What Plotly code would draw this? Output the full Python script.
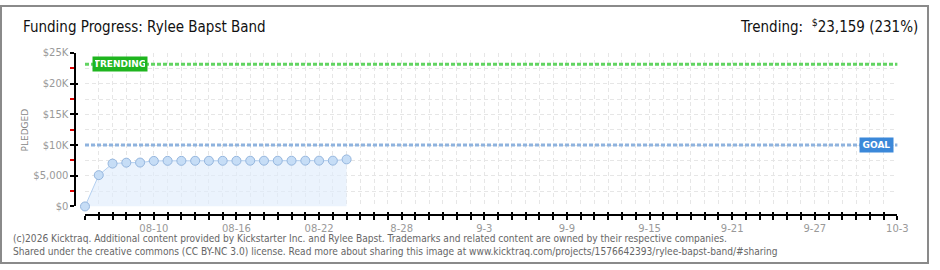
import plotly.graph_objects as go

# ---- data ----
dates = ["2025-08-05", "2025-08-06", "2025-08-07", "2025-08-08", "2025-08-09",
         "2025-08-10", "2025-08-11", "2025-08-12", "2025-08-13", "2025-08-14",
         "2025-08-15", "2025-08-16", "2025-08-17", "2025-08-18", "2025-08-19",
         "2025-08-20", "2025-08-21", "2025-08-22", "2025-08-23", "2025-08-24"]
pledged = [0, 5100, 6980, 7130, 7150, 7420, 7430, 7430, 7440, 7440,
           7440, 7440, 7450, 7450, 7450, 7450, 7460, 7460, 7460, 7660]
goal = 10000
trending = 23159

x_tick_vals = ["2025-08-10", "2025-08-16", "2025-08-22", "2025-08-28", "2025-09-03",
               "2025-09-09", "2025-09-15", "2025-09-21", "2025-09-27", "2025-10-03"]
x_tick_text = ["08-10", "08-16", "08-22", "8-28", "9-3", "9-9", "9-15", "9-21", "9-27", "10-3"]
y_tick_vals = [0, 5000, 10000, 15000, 20000, 25000]
y_tick_text = ["$0", "$5,000", "$10K", "$15K", "$20K", "$25K"]
x_range = ["2025-08-05", "2025-10-03"]
y_range = [0, 25000]

W, H = 940, 270
def px(x):
    return x / W
def py(y):
    return 1 - y / H

label_font = dict(family="DejaVu Sans", size=10, color="#999999")
grid_col = "#e6e6e6"
grid_dash = "4px,3px"

fig = go.Figure()
fig.add_trace(go.Scatter(
    x=dates, y=pledged, mode="lines+markers",
    line=dict(color="#b3cff0", width=1),
    marker=dict(size=9, color="#c6ddf6", line=dict(color="#95b6de", width=1)),
    fill="tozeroy", fillcolor="rgba(225,237,252,0.65)",
    cliponaxis=False, showlegend=False, hoverinfo="x+y"))
# invisible trace to carry the overlay axes (cross ticks)
fig.add_trace(go.Scatter(x=[dates[0]], y=[0], xaxis="x2", yaxis="y2", mode="markers",
                         marker=dict(opacity=0), showlegend=False, hoverinfo="skip"))

xdom = [px(86), px(908)]
ydom = [py(210), py(50)]
xpos = py(219)
ypos = px(76)

fig.update_layout(
    width=W, height=H, margin=dict(l=0, r=0, t=0, b=0, pad=0),
    paper_bgcolor="white", plot_bgcolor="white",
    xaxis=dict(type="date", domain=xdom, range=x_range, anchor="free", position=xpos,
               tickmode="array", tickvals=x_tick_vals, ticktext=x_tick_text,
               ticks="outside", ticklen=4, tickwidth=1.5, tickcolor="black",
               showline=True, linecolor="black", linewidth=1.5,
               showgrid=True, gridcolor=grid_col, griddash=grid_dash, gridwidth=1,
               zeroline=False, tickfont=label_font,
               minor=dict(tickmode="linear", tick0="2025-08-05", dtick=86400000,
                          ticks="outside", ticklen=4, tickwidth=1.5, tickcolor="black",
                          showgrid=True, gridcolor=grid_col, griddash=grid_dash, gridwidth=1)),
    yaxis=dict(domain=ydom, range=y_range, anchor="free", position=ypos,
               tickmode="array", tickvals=y_tick_vals, ticktext=y_tick_text,
               ticks="outside", ticklen=4, tickwidth=1.5, tickcolor="black",
               showline=True, linecolor="black", linewidth=1.5,
               showgrid=True, gridcolor=grid_col, griddash=grid_dash, gridwidth=1,
               zeroline=False, tickfont=label_font,
               minor=dict(tickmode="linear", tick0=0, dtick=2500,
                          ticks="outside", ticklen=4, tickwidth=1.5, tickcolor="#e00000",
                          showgrid=True, gridcolor=grid_col, griddash=grid_dash, gridwidth=1)),
    xaxis2=dict(type="date", overlaying="x", range=x_range, anchor="free", position=xpos,
                tickmode="array", tickvals=x_tick_vals, showticklabels=False,
                ticks="inside", ticklen=3, tickwidth=1.5, tickcolor="black",
                showline=False, showgrid=False, zeroline=False,
                minor=dict(tickmode="linear", tick0="2025-08-05", dtick=86400000,
                           ticks="inside", ticklen=3, tickwidth=1.5, tickcolor="black",
                           showgrid=False)),
    yaxis2=dict(overlaying="y", range=y_range, anchor="free", position=ypos,
                tickmode="array", tickvals=y_tick_vals, showticklabels=False,
                ticks="inside", ticklen=2, tickwidth=1.5, tickcolor="black",
                showline=False, showgrid=False, zeroline=False),
)

# reference lines
fig.add_shape(type="line", xref="x domain", x0=0, x1=1, yref="y", y0=trending, y1=trending,
              line=dict(color="#62d462", width=3, dash="4px,2px"), layer="above")
fig.add_shape(type="line", xref="x domain", x0=0, x1=1, yref="y", y0=goal, y1=goal,
              line=dict(color="#8fb3de", width=3, dash="4px,2px"), layer="above")

badge_font = dict(family="DejaVu Sans", size=9, color="white")
fig.add_annotation(text="<b>TRENDING</b>", xref="x domain", x=(93 - 86) / 822, xanchor="left",
                   yref="y", y=trending, yanchor="middle", showarrow=False,
                   font=badge_font, bgcolor="#1fb51f", borderpad=2, width=50, height=10)
fig.add_annotation(text="<b>GOAL</b>", xref="x domain", x=(905 - 86) / 822, xanchor="right",
                   yref="y", y=goal, yanchor="middle", showarrow=False,
                   font=badge_font, bgcolor="#3b88d9", borderpad=2, width=29, height=10)

# y-axis title
fig.add_annotation(text="PLEDGED", xref="paper", x=px(18), yref="paper", y=py(130),
                   textangle=-90, showarrow=False,
                   font=dict(family="DejaVu Sans", size=9, color="#888888"))

title_font = dict(family="Liberation Sans Narrow, DejaVu Sans Condensed, sans-serif", size=15, color="#111111")
fig.add_annotation(text="Funding Progress: Rylee Bapst Band", xref="paper", x=px(21), xanchor="left",
                   yref="paper", y=py(23), yanchor="middle", showarrow=False, font=title_font)
fig.add_annotation(text="Trending:  <sup>$</sup>23,159 (231%)", xref="paper", x=px(931), xanchor="right",
                   yref="paper", y=py(22), yanchor="middle", showarrow=False, font=title_font)

foot_font = dict(family="Liberation Sans Narrow, DejaVu Sans Condensed, sans-serif", size=10.1, color="#666666")
fig.add_annotation(text="(c)2026 Kicktraq. Additional content provided by Kickstarter Inc. and Rylee Bapst. "
                        "Trademarks and related content are owned by their respective companies.",
                   xref="paper", x=px(11), xanchor="left", yref="paper", y=py(243), yanchor="middle",
                   showarrow=False, font=foot_font)
fig.add_annotation(text="Shared under the creative commons (CC BY-NC 3.0) license. Read more about sharing this image at "
                        "www.kicktraq.com/projects/1576642393/rylee-bapst-band/#sharing",
                   xref="paper", x=px(11), xanchor="left", yref="paper", y=py(257), yanchor="middle",
                   showarrow=False, font=foot_font)

# outer border
fig.add_shape(type="rect", xref="paper", yref="paper", x0=px(1), x1=px(939), y0=py(269), y1=py(1),
              line=dict(color="#8a8a8a", width=2), layer="above")

fig.write_html("out.html")
